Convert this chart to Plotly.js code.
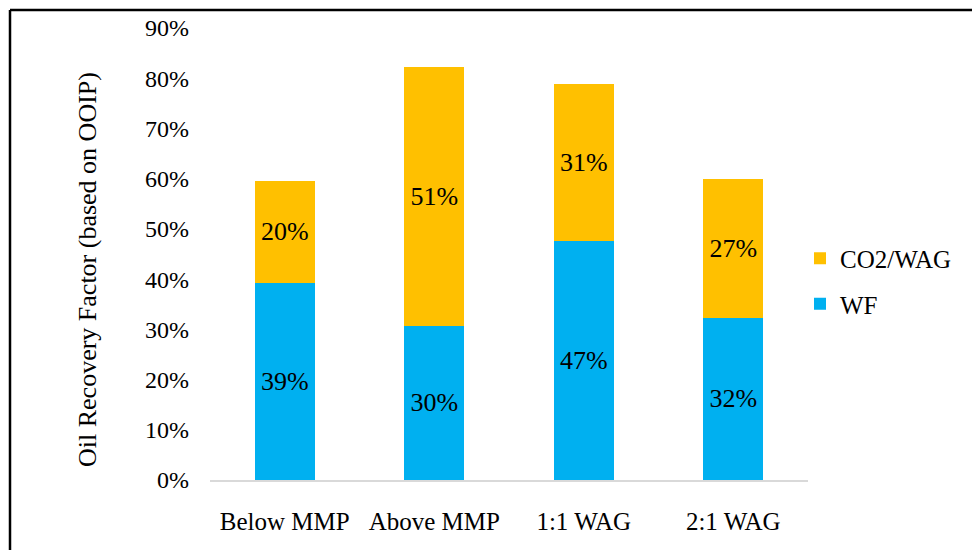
<!DOCTYPE html>
<html>
<head>
<meta charset="utf-8">
<script src="https://cdn.plot.ly/plotly-3.0.1.min.js"></script>
<style>
html,body{margin:0;padding:0;background:#fff;}
#chart{width:972px;height:550px;}
</style>
</head>
<body>
<div id="chart"></div>
<script>
// Data
var categories = ["Below MMP", "Above MMP", "1:1 WAG", "2:1 WAG"];
var wfValues = [0.392, 0.307, 0.476, 0.323];
var co2Values = [0.204, 0.515, 0.313, 0.276];
var wfLabels = ["39%", "30%", "47%", "32%"];
var co2Labels = ["20%", "51%", "31%", "27%"];
var yTickValues = [0, 0.1, 0.2, 0.3, 0.4, 0.5, 0.6, 0.7, 0.8, 0.9];

var W = 972, H = 550;
var L = 210, R = 164, T = 28, B = 70;
var pw = W - L - R, ph = H - T - B;
function px(x){ return (x - L) / pw; }
function py(y){ return (H - B - y) / ph; }

var font = "Liberation Serif";

var traces = [
  {
    type: "bar", name: "WF", x: categories, y: wfValues,
    text: wfLabels, textposition: "inside", insidetextanchor: "middle",
    textfont: {family: font, size: 26, color: "#000"},
    marker: {color: "#00B0F0"}, legendgroup: "a", legendrank: 2, hoverinfo: "none"
  },
  {
    type: "bar", name: "CO2/WAG", x: categories, y: co2Values,
    text: co2Labels, textposition: "inside", insidetextanchor: "middle",
    textfont: {family: font, size: 26, color: "#000"},
    marker: {color: "#FFC000"}, legendgroup: "b", legendrank: 1, hoverinfo: "none"
  }
];

var layout = {
  width: W, height: H,
  margin: {l: L, r: R, t: T, b: B, pad: 0, autoexpand: false},
  paper_bgcolor: "#fff", plot_bgcolor: "#fff",
  barmode: "stack", bargap: 0.6,
  font: {family: font, size: 24, color: "#000"},
  showlegend: true,
  legend: {
    x: px(800), xanchor: "left", y: py(281), yanchor: "middle",
    traceorder: "grouped", tracegroupgap: 10,
    itemwidth: 30, font: {family: font, size: 25, color: "#000"},
    bgcolor: "rgba(0,0,0,0)"
  },
  xaxis: {
    type: "category", showgrid: false, zeroline: false,
    showline: true, linecolor: "#D9D9D9", linewidth: 2,
    ticks: "", tickfont: {family: font, size: 25, color: "#000"},
    ticklabelstandoff: 18, fixedrange: true
  },
  yaxis: {
    range: [0, 0.9], tickvals: yTickValues, tickformat: ".0%",
    showgrid: false, zeroline: false, showline: false, ticks: "",
    tickfont: {family: font, size: 24, color: "#000"},
    ticklabelstandoff: 20, fixedrange: true
  },
  annotations: [{
    text: "Oil Recovery Factor (based on OOIP)",
    textangle: -90, xref: "paper", yref: "paper",
    x: px(87), y: py(270), xanchor: "center", yanchor: "middle",
    showarrow: false, font: {family: font, size: 26, color: "#000"}
  }],
  shapes: [
    {type: "line", xref: "paper", yref: "paper", x0: px(10), x1: px(972), y0: py(10), y1: py(10), line: {color: "#000", width: 2.5}},
    {type: "line", xref: "paper", yref: "paper", x0: px(10), x1: px(10), y0: py(10), y1: py(550), line: {color: "#000", width: 2.5}}
  ]
};

Plotly.newPlot("chart", traces, layout, {displayModeBar: false, staticPlot: true});
</script>
</body>
</html>
